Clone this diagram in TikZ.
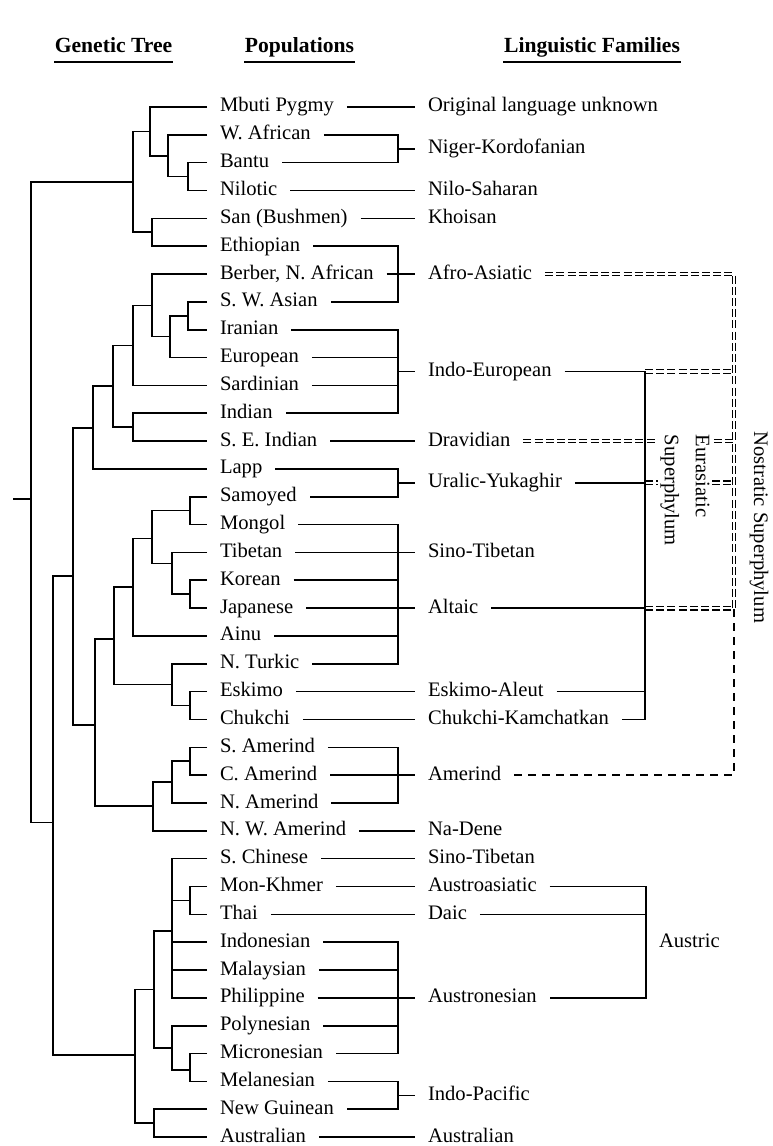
\documentclass[tikz,border=0pt]{standalone}
\usepackage{fontspec}
\setmainfont{Liberation Serif}

\begin{document}
\begin{tikzpicture}[x=0.5pt,y=-13.92pt,line width=0.8pt,
    pop/.style={anchor=west,inner sep=1pt,outer sep=5.5pt,text height=7pt,text depth=2pt,font=\fontsize{10.3}{12}\selectfont},
    hd/.style={anchor=base,inner xsep=0pt,font=\fontsize{10.8}{12}\selectfont\bfseries},
    nost/.style={double,double distance=1.2pt,line width=0.6pt,dash pattern=on 4pt off 1.6pt},
    amer/.style={line width=0.8pt,dash pattern=on 4pt off 3pt}]

    \useasboundingbox (0,-3.843) rectangle (772,37.32);

    \pgfmathsetmacro{\lx}{207}
    \pgfmathsetmacro{\bx}{398}
    \pgfmathsetmacro{\fx}{415}
    \pgfmathsetmacro{\ex}{645}
    \pgfmathsetmacro{\nx}{734}
    \pgfmathsetmacro{\ax}{646}

    % headings
    \node[hd] (hgen) at (113.5,-1.94) {Genetic Tree};
    \node[hd] (hpop) at (299.5,-1.94) {Populations};
    \node[hd] (hfam) at (592,-1.94) {Linguistic Families};
    \draw[line width=1.2pt] ([yshift=-4.5pt]hgen.base west) -- ([yshift=-4.5pt]hgen.base east);
    \draw[line width=1.2pt] ([yshift=-4.5pt]hpop.base west) -- ([yshift=-4.5pt]hpop.base east);
    \draw[line width=1.2pt] ([yshift=-4.5pt]hfam.base west) -- ([yshift=-4.5pt]hfam.base east);

    % populations
    \node[pop] (mbuti) at (\lx,0) {Mbuti Pygmy};
    \node[pop] (wafr) at (\lx,1) {W. African};
    \node[pop] (bantu) at (\lx,2) {Bantu};
    \node[pop] (nilo) at (\lx,3) {Nilotic};
    \node[pop] (san) at (\lx,4) {San (Bushmen)};
    \node[pop] (ethi) at (\lx,5) {Ethiopian};
    \node[pop] (berb) at (\lx,6) {Berber, N. African};
    \node[pop] (swas) at (\lx,7) {S. W. Asian};
    \node[pop] (iran) at (\lx,8) {Iranian};
    \node[pop] (euro) at (\lx,9) {European};
    \node[pop] (sard) at (\lx,10) {Sardinian};
    \node[pop] (indi) at (\lx,11) {Indian};
    \node[pop] (seind) at (\lx,12) {S. E. Indian};
    \node[pop] (lapp) at (\lx,13) {Lapp};
    \node[pop] (samo) at (\lx,14) {Samoyed};
    \node[pop] (mong) at (\lx,15) {Mongol};
    \node[pop] (tibe) at (\lx,16) {Tibetan};
    \node[pop] (kore) at (\lx,17) {Korean};
    \node[pop] (japa) at (\lx,18) {Japanese};
    \node[pop] (ainu) at (\lx,19) {Ainu};
    \node[pop] (turk) at (\lx,20) {N. Turkic};
    \node[pop] (eski) at (\lx,21) {Eskimo};
    \node[pop] (chuk) at (\lx,22) {Chukchi};
    \node[pop] (samer) at (\lx,23) {S. Amerind};
    \node[pop] (camer) at (\lx,24) {C. Amerind};
    \node[pop] (namer) at (\lx,25) {N. Amerind};
    \node[pop] (nwamer) at (\lx,26) {N. W. Amerind};
    \node[pop] (schin) at (\lx,27) {S. Chinese};
    \node[pop] (monk) at (\lx,28) {Mon-Khmer};
    \node[pop] (thai) at (\lx,29) {Thai};
    \node[pop] (indo) at (\lx,30) {Indonesian};
    \node[pop] (mala) at (\lx,31) {Malaysian};
    \node[pop] (phil) at (\lx,32) {Philippine};
    \node[pop] (poly) at (\lx,33) {Polynesian};
    \node[pop] (micr) at (\lx,34) {Micronesian};
    \node[pop] (mela) at (\lx,35) {Melanesian};
    \node[pop] (guin) at (\lx,36) {New Guinean};
    \node[pop] (aust) at (\lx,37) {Australian};

    % families
    \node[pop] (orig) at (\fx,0) {Original language unknown};
    \node[pop] (nk) at (\fx,1.5) {Niger-Kordofanian};
    \node[pop] (nilsah) at (\fx,3) {Nilo-Saharan};
    \node[pop] (khoi) at (\fx,4) {Khoisan};
    \node[pop] (afro) at (\fx,6) {Afro-Asiatic};
    \node[pop] (ie) at (\fx,9.5) {Indo-European};
    \node[pop] (drav) at (\fx,12) {Dravidian};
    \node[pop] (ural) at (\fx,13.5) {Uralic-Yukaghir};
    \node[pop] (sino) at (\fx,16) {Sino-Tibetan};
    \node[pop] (alta) at (\fx,18) {Altaic};
    \node[pop] (eskal) at (\fx,21) {Eskimo-Aleut};
    \node[pop] (chkam) at (\fx,22) {Chukchi-Kamchatkan};
    \node[pop] (amer) at (\fx,24) {Amerind};
    \node[pop] (nadene) at (\fx,26) {Na-Dene};
    \node[pop] (sinob) at (\fx,27) {Sino-Tibetan};
    \node[pop] (ausas) at (\fx,28) {Austroasiatic};
    \node[pop] (daic) at (\fx,29) {Daic};
    \node[pop] (ausn) at (\fx,32) {Austronesian};
    \node[pop] (indpac) at (\fx,35.5) {Indo-Pacific};
    \node[pop] (austl) at (\fx,37) {Australian};

    % genetic tree
    \coordinate (a1) at (188,2.5);
    \coordinate (a2) at (168,1.75);
    \coordinate (a3) at (150,0.875);
    \coordinate (a4) at (152,4.5);
    \coordinate (a5) at (133,2.69);
    \draw (bantu.west) -| (a1) |- (nilo.west);
    \draw (wafr.west) -| (a2) |- (a1);
    \draw (mbuti.west) -| (a3) |- (a2);
    \draw (san.west) -| (a4) |- (ethi.west);
    \draw (a3) -| (a5) |- (a4);

    \coordinate (e1) at (188,7.5);
    \coordinate (e2) at (170,8.25);
    \coordinate (e3) at (152,7.125);
    \coordinate (e4) at (133,8.56);
    \coordinate (e5) at (133,11.5);
    \coordinate (e6) at (113,10.03);
    \coordinate (e7) at (93,11.52);
    \draw (swas.west) -| (e1) |- (iran.west);
    \draw (e1) -| (e2) |- (euro.west);
    \draw (berb.west) -| (e3) |- (e2);
    \draw (e3) -| (e4) |- (sard.west);
    \draw (indi.west) -| (e5) |- (seind.west);
    \draw (e4) -| (e6) |- (e5);
    \draw (e6) -| (e7) |- (lapp.west);

    \coordinate (n1) at (190,14.5);
    \coordinate (n2) at (190,17.5);
    \coordinate (n3) at (172,16.4);
    \coordinate (n4) at (152,15.5);
    \coordinate (n5) at (133,17.25);
    \coordinate (n6) at (190,21.5);
    \coordinate (n7) at (172,20.75);
    \coordinate (n8) at (114,19.1);
    \draw (samo.west) -| (n1) |- (mong.west);
    \draw (kore.west) -| (n2) |- (japa.west);
    \draw (tibe.west) -| (n3) |- (n2);
    \draw (n1) -| (n4) |- (n3);
    \draw (n4) -| (n5) |- (ainu.west);
    \draw (eski.west) -| (n6) |- (chuk.west);
    \draw (turk.west) -| (n7) |- (n6);
    \draw (n5) -| (n8) |- (n7);

    \coordinate (m1) at (190,23.5);
    \coordinate (m2) at (172,24.25);
    \coordinate (m3) at (153,25.1);
    \coordinate (m4) at (95,22.2);
    \coordinate (g1) at (73,16.85);
    \draw (samer.west) -| (m1) |- (camer.west);
    \draw (m1) -| (m2) |- (namer.west);
    \draw (m2) -| (m3) |- (nwamer.west);
    \draw (n8) -| (m4) |- (m3);
    \draw (e7) -| (g1) |- (m4);

    \coordinate (s1) at (190,28.5);
    \coordinate (s2) at (172,29.6);
    \coordinate (s3) at (190,34.6);
    \coordinate (s4) at (172,33.8);
    \coordinate (s5) at (154,31.7);
    \coordinate (s6) at (154,36.5);
    \coordinate (s7) at (135,34.05);
    \draw (monk.west) -| (s1) |- (thai.west);
    \draw (schin.west) -| (s2) |- (phil.west);
    \draw (s1) -- (s1 -| s2);
    \draw (indo.west) -- (indo.west -| s2);
    \draw (mala.west) -- (mala.west -| s2);
    \draw (micr.west) -| (s3) |- (mela.west);
    \draw (poly.west) -| (s4) |- (s3);
    \draw (s2) -| (s5) |- (s4);
    \draw (guin.west) -| (s6) |- (aust.west);
    \draw (s5) -| (s7) |- (s6);

    \coordinate (g2) at (53,25.7);
    \coordinate (root) at (31,14.08);
    \coordinate (stub) at (13,14.08);
    \draw (g1) -| (g2) |- (s7);
    \draw (a5) -| (root) |- (g2);
    \draw (root) -- (stub);

    % populations to families
    \coordinate (bnk) at (\bx,1.5);
    \coordinate (baa) at (\bx,6);
    \coordinate (bie) at (\bx,9.5);
    \coordinate (bur) at (\bx,13.5);
    \coordinate (bst) at (\bx,17.5);
    \coordinate (bam) at (\bx,24);
    \coordinate (ban) at (\bx,32);
    \coordinate (bip) at (\bx,35.5);

    \draw (mbuti.east) -- (orig.west);
    \draw (wafr.east) -| (bnk) |- (bantu.east);
    \draw (bnk) -- (nk.west);
    \draw (nilo.east) -- (nilsah.west);
    \draw (san.east) -- (khoi.west);
    \draw (ethi.east) -| (baa) |- (swas.east);
    \draw (berb.east) -- (afro.west);
    \draw (iran.east) -| (bie) |- (indi.east);
    \draw (euro.east) -- (euro.east -| bie);
    \draw (sard.east) -- (sard.east -| bie);
    \draw (bie) -- (ie.west);
    \draw (seind.east) -- (drav.west);
    \draw (lapp.east) -| (bur) |- (samo.east);
    \draw (bur) -- (ural.west);
    \draw (mong.east) -| (bst) |- (turk.east);
    \draw (tibe.east) -- (sino.west);
    \draw (japa.east) -- (alta.west);
    \draw (kore.east) -- (kore.east -| bst);
    \draw (ainu.east) -- (ainu.east -| bst);
    \draw (eski.east) -- (eskal.west);
    \draw (chuk.east) -- (chkam.west);
    \draw (samer.east) -| (bam) |- (namer.east);
    \draw (camer.east) -- (amer.west);
    \draw (nwamer.east) -- (nadene.west);
    \draw (schin.east) -- (sinob.west);
    \draw (monk.east) -- (ausas.west);
    \draw (thai.east) -- (daic.west);
    \draw (indo.east) -| (ban) |- (micr.east);
    \draw (mala.east) -- (mala.east -| ban);
    \draw (poly.east) -- (poly.east -| ban);
    \draw (phil.east) -- (ausn.west);
    \draw (mela.east) -| (bip) |- (guin.east);
    \draw (bip) -- (indpac.west);
    \draw (aust.east) -- (austl.west);

    % nostratic
    \coordinate (eurT) at (\ex,9.5);
    \coordinate (eurB) at (\ex,22);
    \coordinate (nosT) at (\nx,6);
    \coordinate (nosM) at (\nx,18);
    \coordinate (nosB) at (\nx,24);
    \draw[nost] (afro.east) -- (nosT) -- (nosM);
    \draw[nost] (eurT) -- (eurT -| nosT);
    \draw[nost] (drav.east) -- (drav.east -| nosT);
    \draw[nost] (ural.east -| eurT) -- (ural.east -| nosT);
    \draw[nost] (alta.east -| eurT) -- (nosM);
    \draw[amer] (amer.east) -- (nosB) -- (nosM);

    % eurasiatic
    \draw (ie.east) -- (eurT) -- (eurB) -- (chkam.east);
    \draw (ural.east) -- (ural.east -| eurT);
    \draw (alta.east) -- (alta.east -| eurT);
    \draw (eskal.east) -- (eskal.east -| eurT);

    \node[rotate=-90,anchor=west,fill=white,align=left,inner sep=1pt,font=\fontsize{10.3}{12}\selectfont] (eurlab) at (685,11.68) {Eurasiatic\\[3.5pt]Superphylum};
    \node[rotate=-90,anchor=west,inner sep=1pt,font=\fontsize{10.3}{12}\selectfont] (noslab) at (759,11.55) {Nostratic Superphylum};

    % austric
    \coordinate (ausT) at (\ax,28);
    \coordinate (ausB) at (\ax,32);
    \draw (ausas.east) -- (ausT) -- (ausB) -- (ausn.east);
    \draw (daic.east) -- (daic.east -| ausT);
    \node[pop] (austric) at (\ax,30) {Austric};

\end{tikzpicture}
\end{document}
